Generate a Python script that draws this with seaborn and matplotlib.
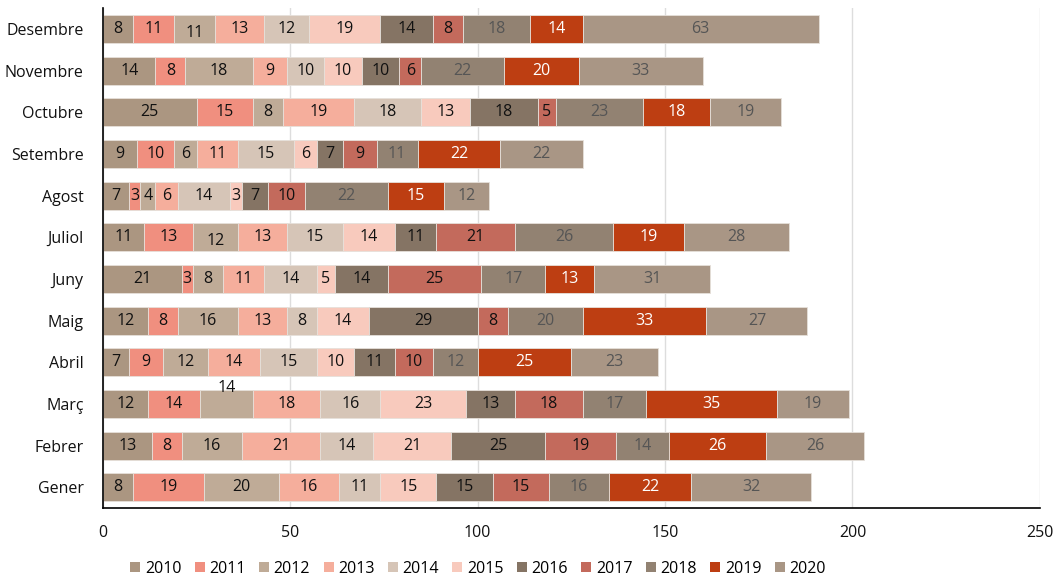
import matplotlib
matplotlib.use("Agg")
import matplotlib.pyplot as plt
import seaborn as sns
import pandas as pd
import numpy as np

months = ["Desembre", "Novembre", "Octubre", "Setembre", "Agost", "Juliol",
          "Juny", "Maig", "Abril", "Març", "Febrer", "Gener"]
years = ["2010", "2011", "2012", "2013", "2014", "2015", "2016", "2017", "2018", "2019", "2020"]

v2010 = [8, 14, 25, 9, 7, 11, 21, 12, 7, 12, 13, 8]
v2011 = [11, 8, 15, 10, 3, 13, 3, 8, 9, 14, 8, 19]
v2012 = [11, 18, 8, 6, 4, 12, 8, 16, 12, 14, 16, 20]
v2013 = [13, 9, 19, 11, 6, 13, 11, 13, 14, 18, 21, 16]
v2014 = [12, 10, 18, 15, 14, 15, 14, 8, 15, 16, 14, 11]
v2015 = [19, 10, 13, 6, 3, 14, 5, 14, 10, 23, 21, 15]
v2016 = [14, 10, 18, 7, 7, 11, 14, 29, 11, 13, 25, 15]
v2017 = [8, 6, 5, 9, 10, 21, 25, 8, 10, 18, 19, 15]
v2018 = [18, 22, 23, 11, 22, 26, 17, 20, 12, 17, 14, 16]
v2019 = [14, 20, 18, 22, 15, 19, 13, 33, 25, 35, 26, 22]
v2020 = [63, 33, 19, 22, 12, 28, 31, 27, 23, 19, 26, 32]

series = [v2010, v2011, v2012, v2013, v2014, v2015, v2016, v2017, v2018, v2019, v2020]

colors = ["#ab9681", "#f08f7f", "#bfab97", "#f5ae9c", "#d6c5b7", "#f8cabd",
          "#857464", "#c36a5c", "#928272", "#bd3e12", "#a99685"]
text_colors = ["#111111"] * 8 + ["#555555", "#ffffff", "#555555"]

plt.rcParams['font.family'] = ['Open Sans', 'DejaVu Sans']
fig = plt.figure(figsize=(10.55, 5.78), dpi=100)
ax = fig.add_axes([0.0976, 0.121, 0.888, 0.865])

left = np.zeros(len(months))
for i, (yr, vals) in enumerate(zip(years, series)):
    df = pd.DataFrame({"month": months, "value": vals})
    sns.barplot(data=df, y="month", x="value", orient="h", color=colors[i],
                left=left, width=0.67, ax=ax, label=yr,
                edgecolor="#e6e0da", linewidth=0.6, saturation=1)
    for j, v in enumerate(vals):
        dy = 0
        if yr == "2012" and months[j] in ("Desembre", "Juliol"):
            dy = 0.1
        if yr == "2012" and months[j] == "Març":
            dy = -0.38
        ax.text(left[j] + v / 2, j + dy, str(v), ha="center", va="center",
                fontsize=11.5, color=text_colors[i])
    left = left + np.array(vals)

ax.set_xlim(0, 250)
ax.set_ylim(11.5, -0.5)
ax.set_xticks([0, 50, 100, 150, 200, 250])
ax.set_xlabel("")
ax.set_ylabel("")
ax.xaxis.grid(True, color="#dddddd", linewidth=1)
ax.set_axisbelow(True)
for s in ["top", "right"]:
    ax.spines[s].set_visible(False)
ax.spines["left"].set_color("black")
ax.spines["bottom"].set_color("black")
ax.spines["left"].set_linewidth(1.2)
ax.spines["bottom"].set_linewidth(1.2)
ax.tick_params(axis="both", length=0, labelsize=11.5, colors="#111111")
ax.tick_params(axis="x", pad=12)
ax.tick_params(axis="y", pad=14)

handles = [plt.Line2D([0], [0], marker="s", color="w", markerfacecolor=c,
                      markersize=7, markeredgewidth=0) for c in colors]
ax.legend(handles, years, loc="center", bbox_to_anchor=(0.40, -0.122),
          ncol=11, frameon=False, fontsize=11.5, handlelength=0.7,
          handletextpad=0.25, columnspacing=0.8, borderpad=0.1)

fig.savefig("out.png", dpi=100)
